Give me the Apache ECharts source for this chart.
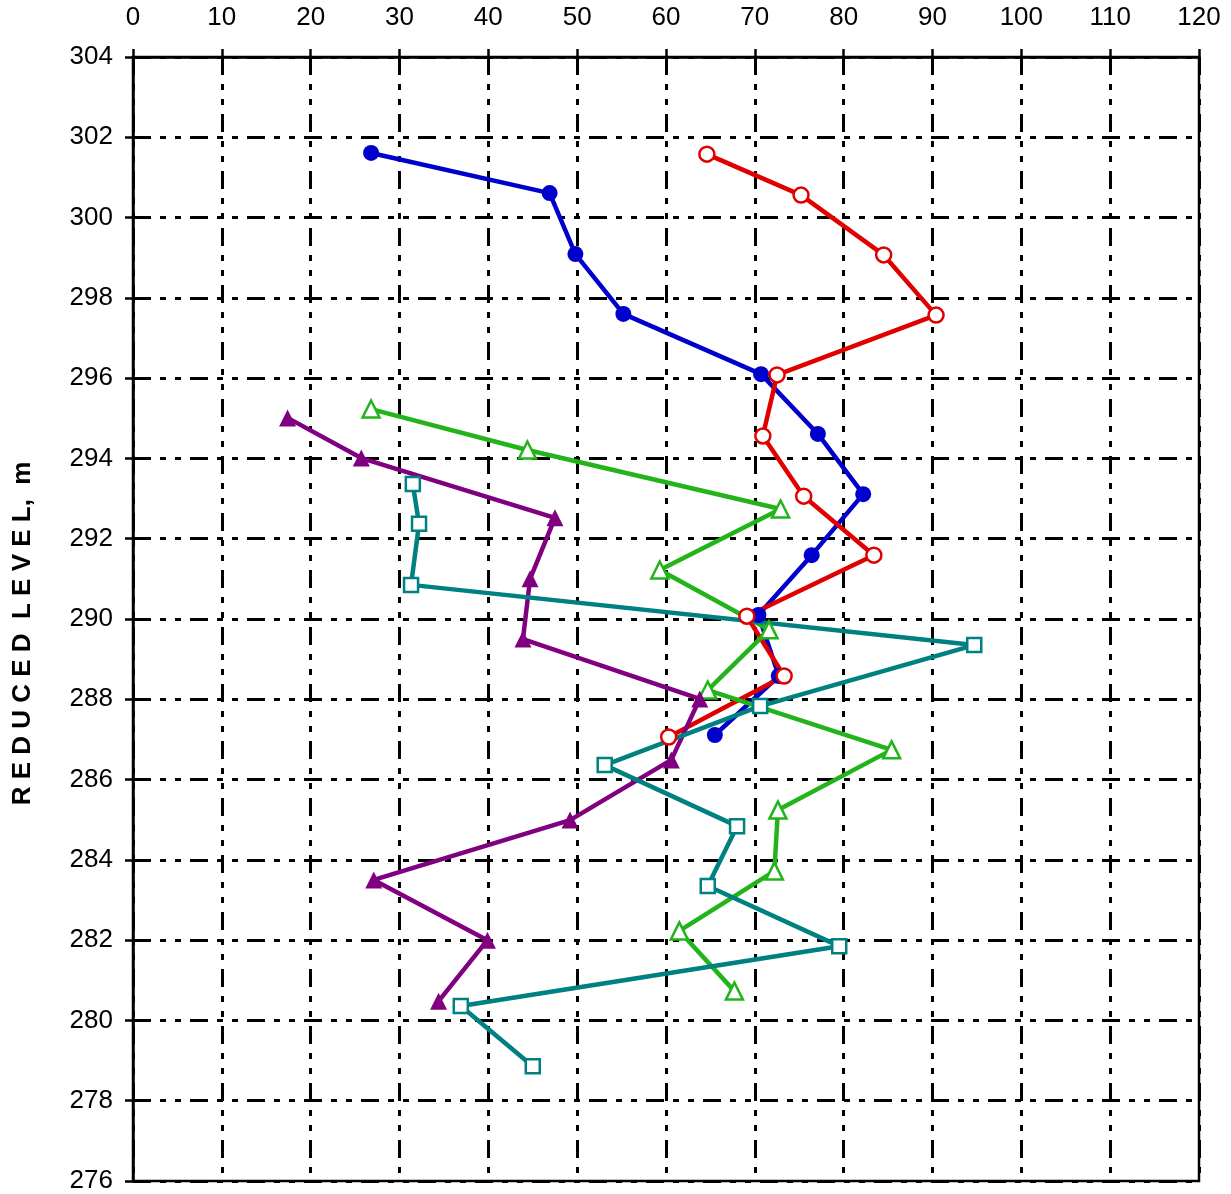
<!DOCTYPE html>
<html>
<head>
<meta charset="utf-8">
<script src="https://cdn.jsdelivr.net/npm/echarts@6/dist/echarts.min.js"></script>
<style>html,body{margin:0;padding:0;background:#fff}#c{width:1231px;height:1194px}</style>
</head>
<body>
<div id="c"></div>
<script>
const xTicks = [0,10,20,30,40,50,60,70,80,90,100,110,120];
const yTicks = [276,278,280,282,284,286,288,290,292,294,296,298,300,302,304];

const blueX = [26.8,46.9,49.8,55.2,70.7,77.1,82.2,76.4,70.4,72.7,65.5];
const blueY = [301.61,300.61,299.09,297.60,296.10,294.61,293.11,291.59,290.10,288.58,287.11];

const redX = [64.6,75.2,84.5,90.4,72.5,70.9,75.5,83.4,69.1,73.3,60.3];
const redY = [301.58,300.56,299.07,297.57,296.08,294.56,293.06,291.59,290.07,288.58,287.06];

const greenX = [26.8,44.4,72.9,59.3,71.6,64.7,85.4,72.6,72.2,61.5,67.7];
const greenY = [295.23,294.21,292.74,291.22,289.73,288.23,286.74,285.24,283.72,282.23,280.73];

const purpleX = [17.4,25.7,47.5,44.7,43.9,63.8,60.6,49.2,27.1,39.9,34.4];
const purpleY = [295.01,294.01,292.52,291.00,289.50,288.01,286.49,284.99,283.50,282.00,280.48];

const tealX = [31.5,32.2,31.3,94.7,70.6,53.1,68.0,64.7,79.5,36.9,45.0];
const tealY = [293.36,292.37,290.85,289.35,287.83,286.36,284.84,283.35,281.85,280.36,278.86];

function pairs(xs, ys){ return xs.map((x,i)=>[x, ys[i]]); }

function series(name, xs, ys, color, symbol, size, filled){
  return {
    name, type:'line', data: pairs(xs, ys),
    symbol, symbolSize: size, showSymbol:true,
    lineStyle:{color, width:4.5},
    itemStyle:{color: filled ? color : '#fff', borderColor: color, borderWidth: filled ? 0 : 2.5},
    animation:false, z: 3
  };
}

const dash = [18,9,6,9,6,9];
const chart = echarts.init(document.getElementById('c'), null, {renderer:'canvas'});
chart.setOption({
  backgroundColor:'#fff',
  animation:false,
  grid:{left:133, right:32, top:57, bottom:13, show:true, borderColor:'#000', borderWidth:2.5, backgroundColor:'transparent'},
  xAxis:{
    type:'value', position:'top', min:0, max:120, interval:10,
    axisLine:{show:true, onZero:false, lineStyle:{color:'#000', width:2.5}},
    axisTick:{show:true, inside:false, length:8, lineStyle:{color:'#000', width:2.5}},
    axisLabel:{color:'#000', fontSize:26, fontFamily:'Liberation Sans, Arial', margin:26,
      formatter: v => xTicks.includes(v) ? String(v) : ''},
    splitLine:{show:true, lineStyle:{color:'#000', width:3, type:dash}}
  },
  yAxis:{
    type:'value', min:276, max:304, interval:2,
    name:'R E D U C E D  L E V E L,  m    ', nameLocation:'middle', nameRotate:90, nameGap:97,
    nameTextStyle:{color:'#000', fontSize:26, fontWeight:'bold', fontFamily:'Liberation Sans, Arial'},
    axisLine:{show:true, onZero:false, lineStyle:{color:'#000', width:2.5}},
    axisTick:{show:true, inside:false, length:8, lineStyle:{color:'#000', width:2.5}},
    axisLabel:{color:'#000', fontSize:26, fontFamily:'Liberation Sans, Arial', margin:20,
      formatter: v => yTicks.includes(v) ? String(v) : ''},
    splitLine:{show:true, lineStyle:{color:'#000', width:3, type:dash}}
  },
  series:[
    series('blue', blueX, blueY, '#0000CC', 'circle', 16, true),
    series('red', redX, redY, '#E00000', 'circle', 15, false),
    series('green', greenX, greenY, '#22B41A', 'triangle', 17, false),
    series('purple', purpleX, purpleY, '#800080', 'triangle', 17, true),
    series('teal', tealX, tealY, '#008080', 'rect', 14, false)
  ]
});
</script>
</body>
</html>
